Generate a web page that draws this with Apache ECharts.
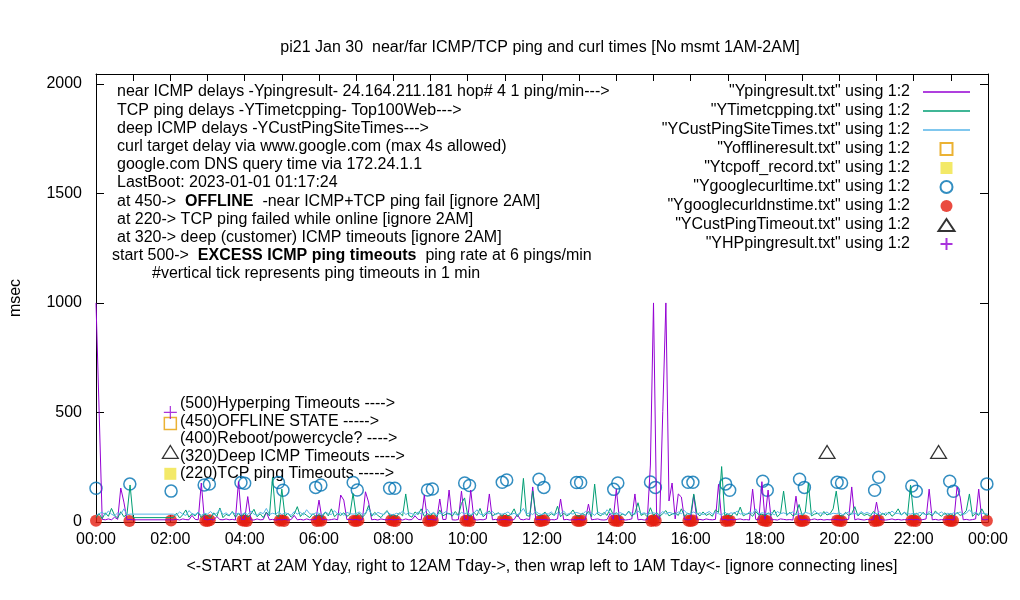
<!DOCTYPE html>
<html>
<head>
<meta charset="utf-8">
<title>pi21 Jan 30 ping and curl times</title>
<script src="https://cdn.jsdelivr.net/npm/echarts@6/dist/echarts.min.js"></script>
<style>
  html, body { margin: 0; padding: 0; background: #fff; }
  #chart { width: 1020px; height: 600px; }
</style>
</head>
<body>
<div id="chart"></div>
<script>
var FONT = '"Liberation Sans", Arial, sans-serif';
var N = null;   // no measurement (1AM-2AM), line just connects across

// one sample every 5 min, one row per hour, 00:00 .. 24:00 (msec)
var STEP_MIN = 5;
var pingMs = [
  1000,510,12,10,14,10,22,12,155,91,10,12,
  10,N,N,N,N,N,N,N,N,N,N,N,
  N,10,12,9,14,11,10,30,12,10,178,12,
  10,12,9,25,11,10,14,10,12,9,184,11,
  12,116,10,9,14,10,11,45,10,12,9,11,
  10,12,9,11,30,10,12,9,14,10,11,12,
  100,10,12,9,11,14,10,123,100,11,12,10,
  12,9,11,138,91,10,12,9,14,11,10,12,
  10,11,12,9,14,10,11,28,12,10,123,11,
  12,10,9,105,11,12,146,10,9,11,141,12,
  10,146,12,9,11,10,14,128,10,12,9,11,
  12,10,9,11,35,12,10,14,11,160,10,12,
  10,12,9,11,10,14,105,10,12,9,11,10,
  12,9,11,82,10,12,14,10,9,11,40,12,
  150,10,12,9,11,14,128,10,12,9,11,260,
  1000,30,12,505,1000,96,178,14,128,114,12,10,
  11,123,10,12,9,14,11,10,12,172,10,12,
  9,11,10,12,14,10,11,9,150,12,10,184,
  12,146,10,11,9,14,12,10,11,9,118,12,
  10,12,9,11,14,10,12,9,11,10,12,11,
  10,9,11,12,160,10,14,11,9,12,10,11,
  91,12,10,9,11,14,10,12,9,11,10,12,
  10,12,9,11,14,150,10,12,9,11,10,12,
  11,9,160,114,10,12,9,11,14,150,12,10,
  12
];
var tcpMs = [
  20,38,15,42,26,62,30,18,47,24,35,169,
  20,N,N,N,N,N,N,N,N,N,N,N,
  N,20,40,18,33,55,22,38,28,45,20,36,
  30,18,42,25,64,20,35,28,48,22,38,26,
  40,22,35,58,24,38,20,45,28,205,33,24,
  150,28,40,22,36,70,25,42,30,20,38,26,
  34,22,45,28,60,24,38,30,42,26,35,130,
  28,40,22,36,75,26,44,30,20,38,52,25,
  35,24,42,28,128,30,22,46,34,60,26,38,
  30,42,24,55,28,36,40,26,48,30,85,110,
  32,26,44,30,62,24,38,50,28,36,42,26,
  40,28,35,60,24,42,199,30,26,141,38,28,
  34,45,26,38,30,72,24,40,28,36,55,30,
  26,40,30,48,24,173,36,28,44,30,62,34,
  42,28,36,30,50,26,40,88,30,38,24,65,
  30,44,26,38,52,28,36,42,30,60,26,40,
  34,128,40,28,46,30,38,26,55,44,253,30,
  38,26,44,30,68,28,36,40,26,48,32,36,
  28,42,30,55,24,38,141,30,44,28,36,80,
  30,44,178,28,36,40,26,48,32,38,60,141,
  32,26,44,30,38,70,28,42,30,36,26,48,
  36,28,40,30,46,26,38,60,32,44,28,169,
  30,40,26,44,32,38,28,50,36,26,42,30,
  38,28,44,30,36,52,128,26,40,30,60,34,
  30
];
var custMs = [
  30,38,45,32,50,36,28,42,35,60,33,36,
  36,N,N,N,N,N,N,N,N,N,N,N,
  N,36,32,46,36,30,52,38,34,44,30,40,
  36,48,32,40,58,34,42,30,46,36,40,34,
  42,34,50,36,30,44,38,62,34,40,36,46,
  34,42,38,30,48,36,44,32,56,38,34,42,
  40,32,46,38,34,52,36,42,30,44,38,36,
  38,46,34,40,60,36,32,44,38,34,48,36,
  32,40,36,50,34,42,38,30,46,36,40,58,
  36,44,32,40,38,48,34,42,36,30,44,38,
  42,34,40,56,36,32,44,38,48,34,40,36,
  38,46,34,40,32,44,62,36,42,34,48,38,
  34,40,36,46,32,42,38,50,34,40,36,44,
  40,34,48,36,42,30,46,38,34,56,40,36,
  36,44,38,32,46,40,34,50,38,42,36,40,
  42,38,34,48,36,44,40,32,46,38,52,36,
  38,46,36,42,34,40,48,36,44,38,32,46,
  34,42,38,50,36,40,34,46,38,60,36,42,
  40,36,44,32,48,38,42,36,40,46,34,38,
  36,44,40,34,52,38,42,36,46,34,40,38,
  42,34,38,46,36,40,32,48,38,44,36,40,
  38,46,34,42,36,50,38,40,34,44,38,36,
  40,36,44,38,34,48,36,42,38,46,34,40,
  36,42,38,46,34,40,56,38,44,36,40,38,
  36
];

// point files: hour of day and msec
var offlineHours = [2.0];
var offlineMs = [450];
var tcpOffHours = [2.0];
var tcpOffMs = [220];
var curlHours = [0.0,0.91,2.02,2.91,3.05,3.9,4.0,4.91,5.03,5.91,6.05,6.92,7.03,7.9,8.04,8.92,9.05,9.92,10.05,
  10.93,11.05,11.92,12.05,12.93,13.04,13.93,14.04,14.92,15.05,15.93,16.06,16.94,17.05,17.94,18.06,18.93,19.06,
  19.94,20.06,20.95,21.06,21.95,22.07,22.97,23.07,23.97];
var curlMs = [154,173,141,169,173,180,177,180,145,158,169,180,146,154,154,146,151,178,167,
  181,192,195,158,180,180,149,178,183,158,181,181,174,145,186,145,195,158,
  181,178,145,204,164,140,186,140,174];
var dnsHours = [0.0,0.9,2.02, 2.94,3.0,3.06, 3.94,4.0,4.06, 4.94,5.0,5.06, 5.94,6.0,6.06, 6.94,7.0,7.06,
  7.94,8.0,8.06, 8.94,9.0,9.06, 9.94,10.0,10.06, 10.94,11.0,11.06, 11.94,12.0,12.06, 12.94,13.0,13.06,
  13.94,14.0,14.06, 14.94,15.0,15.06, 15.94,16.0,16.06, 16.94,17.0,17.06, 17.94,18.0,18.06,
  18.94,19.0,19.06, 19.94,20.0,20.06, 20.94,21.0,21.06, 21.94,22.0,22.06, 22.94,23.0,23.06, 23.97];
var dnsMs = [6,5,7, 6,5,8, 7,6,5, 6,8,5, 5,7,6, 6,5,7, 8,6,5, 5,6,7, 6,7,5, 7,5,6, 5,6,8, 6,5,7,
  7,6,5, 5,8,6, 6,5,7, 5,7,6, 8,6,5, 6,5,7, 7,6,5, 5,6,7, 6,7,5, 7,5,6, 6];
var custTimeoutHours = [2.0, 19.67, 22.67];
var custTimeoutMs = [320, 320, 320];
var hpHours = [2.0];
var hpMs = [500];

var noteLines = [
  'near ICMP delays -Ypingresult- 24.164.211.181 hop# 4 1 ping/min--->',
  'TCP ping delays -YTimetcpping- Top100Web--->',
  'deep ICMP delays -YCustPingSiteTimes--->',
  'curl target delay via www.google.com (max 4s allowed)',
  'google.com DNS query time via 172.24.1.1',
  'LastBoot: 2023-01-01 01:17:24',
  'at 450->  {b|OFFLINE}  -near ICMP+TCP ping fail [ignore 2AM]',
  'at 220-> TCP ping failed while online [ignore 2AM]',
  'at 320-> deep (customer) ICMP timeouts [ignore 2AM]',
  'start 500->  {b|EXCESS ICMP ping timeouts}  ping rate at 6 pings/min',
  '#vertical tick represents ping timeouts in 1 min'
];
var noteIndent = [117,117,117,117,117,117,117,117,117,112,152];
var keyLines = [
  '(500)Hyperping Timeouts ---->',
  '(450)OFFLINE STATE ----->',
  '(400)Reboot/powercycle? ---->',
  '(320)Deep ICMP Timeouts ---->',
  '(220)TCP ping Timeouts ----->'
];

function series5min(arr) {
  return arr.map(function (v, i) { return [i * STEP_MIN / 60, v]; });
}
function pairs(hours, ms) {
  return hours.map(function (h, i) { return [h, ms[i]]; });
}
function hourLabel(v) {
  if (v % 2 !== 0) return '';
  var h = v % 24;
  return (h < 10 ? '0' : '') + h + ':00';
}

var chart = echarts.init(document.getElementById('chart'));

var graphics = [];
noteLines.forEach(function (t, i) {
  graphics.push({
    type: 'text', x: noteIndent[i], y: 92 + i * 18.2, silent: true,
    style: {
      text: t, fill: '#000', font: '16px ' + FONT, verticalAlign: 'middle',
      rich: { b: { fontWeight: 'bold', fontSize: 16, fontFamily: FONT, fill: '#000' } }
    }
  });
});
keyLines.forEach(function (t, i) {
  graphics.push({
    type: 'text', x: 180, y: 404 + i * 17.5, silent: true,
    style: { text: t, fill: '#000', font: '16px ' + FONT, verticalAlign: 'middle' }
  });
});

function lineSeries(name, arr, color) {
  return {
    name: name, type: 'line', data: series5min(arr), connectNulls: true,
    symbol: 'none', showSymbol: false, lineStyle: { color: color, width: 1 },
    itemStyle: { color: color }, animation: false
  };
}
function pointSeries(name, data, symbol, size, itemStyle) {
  return {
    name: name, type: 'scatter', data: data, symbol: symbol, symbolSize: size,
    itemStyle: itemStyle, animation: false
  };
}

var LINE_ICON = 'path://M0,0H47V1.3H0Z';
var SQUARE_ICON = 'path://M0,0H12V12H0Z';
var TRI_ICON = 'path://M8,0L16,12L0,12Z';
var PLUS_ICON = 'path://M6,0V12M0,6H12';

var seriesList = [
  lineSeries('"Ypingresult.txt" using 1:2', pingMs, '#9400D3'),
  lineSeries('"YTimetcpping.txt" using 1:2', tcpMs, '#009E73'),
  lineSeries('"YCustPingSiteTimes.txt" using 1:2', custMs, '#56B4E9'),
  pointSeries('"Yofflineresult.txt" using 1:2', pairs(offlineHours, offlineMs), 'rect', 12,
    { color: 'rgba(0,0,0,0)', borderColor: '#E69F00', borderWidth: 1.5 }),
  pointSeries('"Ytcpoff_record.txt" using 1:2', pairs(tcpOffHours, tcpOffMs), 'rect', 12,
    { color: '#F0E442' }),
  pointSeries('"Ygooglecurltime.txt" using 1:2', pairs(curlHours, curlMs), 'circle', 12,
    { color: 'rgba(0,0,0,0)', borderColor: '#0072B2', borderWidth: 1.5 }),
  pointSeries('"Ygooglecurldnstime.txt" using 1:2', pairs(dnsHours, dnsMs), 'circle', 12,
    { color: '#E51E10' }),
  pointSeries('"YCustPingTimeout.txt" using 1:2', pairs(custTimeoutHours, custTimeoutMs), 'triangle', [16, 13],
    { color: 'rgba(0,0,0,0)', borderColor: '#000', borderWidth: 1.2 }),
  pointSeries('"YHPpingresult.txt" using 1:2', pairs(hpHours, hpMs), PLUS_ICON, 13,
    { color: 'rgba(0,0,0,0)', borderColor: '#9400D3', borderWidth: 1.2 })
];
var legendIcons = [LINE_ICON, LINE_ICON, LINE_ICON, SQUARE_ICON, SQUARE_ICON, 'circle', 'circle', TRI_ICON, PLUS_ICON];

var axisText = { fontFamily: FONT, fontSize: 16, color: '#000' };
var frameLine = { show: true, onZero: false, lineStyle: { color: '#000', width: 1 } };

chart.setOption({
  animation: false,
  backgroundColor: '#fff',
  title: {
    text: 'pi21 Jan 30  near/far ICMP/TCP ping and curl times [No msmt 1AM-2AM]',
    left: 535, top: 35, textAlign: 'center',
    textStyle: { fontFamily: FONT, fontSize: 16, fontWeight: 'normal', color: '#000' }
  },
  grid: { left: 95, right: 32, top: 74, bottom: 78 },
  legend: {
    orient: 'vertical', right: 50, top: 84, padding: 0, align: 'right',
    itemWidth: 47, itemHeight: 12, itemGap: 3, selectedMode: false, symbolKeepAspect: true,
    data: seriesList.map(function (s, i) { return { name: s.name, icon: legendIcons[i] }; }),
    textStyle: { fontFamily: FONT, fontSize: 16, color: '#000', width: 320, padding: [0, 8, 0, 0] }
  },
  xAxis: [{
    type: 'value', min: 0, max: 24, interval: 1,
    name: '<-START at 2AM Yday, right to 12AM Tday->, then wrap left to 1AM Tday<- [ignore connecting lines]',
    nameLocation: 'middle', nameGap: 37, nameTextStyle: axisText,
    axisLine: frameLine,
    axisTick: { inside: true, length: 7, lineStyle: { color: '#000' } },
    axisLabel: Object.assign({ margin: 10, formatter: hourLabel }, axisText),
    splitLine: { show: false }
  }, {
    type: 'value', min: 0, max: 24, interval: 1, position: 'top',
    axisLine: frameLine,
    axisTick: { inside: true, length: 7, lineStyle: { color: '#000' } },
    axisLabel: { show: false }, splitLine: { show: false }
  }],
  yAxis: [{
    type: 'value', min: 0, max: 2045, interval: 500,
    name: 'msec', nameLocation: 'middle', nameGap: 72, nameTextStyle: axisText,
    axisLine: frameLine,
    axisTick: { show: true, inside: true, length: 8, lineStyle: { color: '#000' } },
    axisLabel: Object.assign({ margin: 14, formatter: function (v) { return v % 500 === 0 ? String(v) : ''; } }, axisText),
    splitLine: { show: false }
  }, {
    type: 'value', min: 0, max: 2045, interval: 500, position: 'right',
    axisLine: frameLine,
    axisTick: { show: true, inside: true, length: 8, lineStyle: { color: '#000' } },
    axisLabel: { show: false }, splitLine: { show: false }
  }],
  graphic: graphics,
  series: seriesList
});
</script>
</body>
</html>
